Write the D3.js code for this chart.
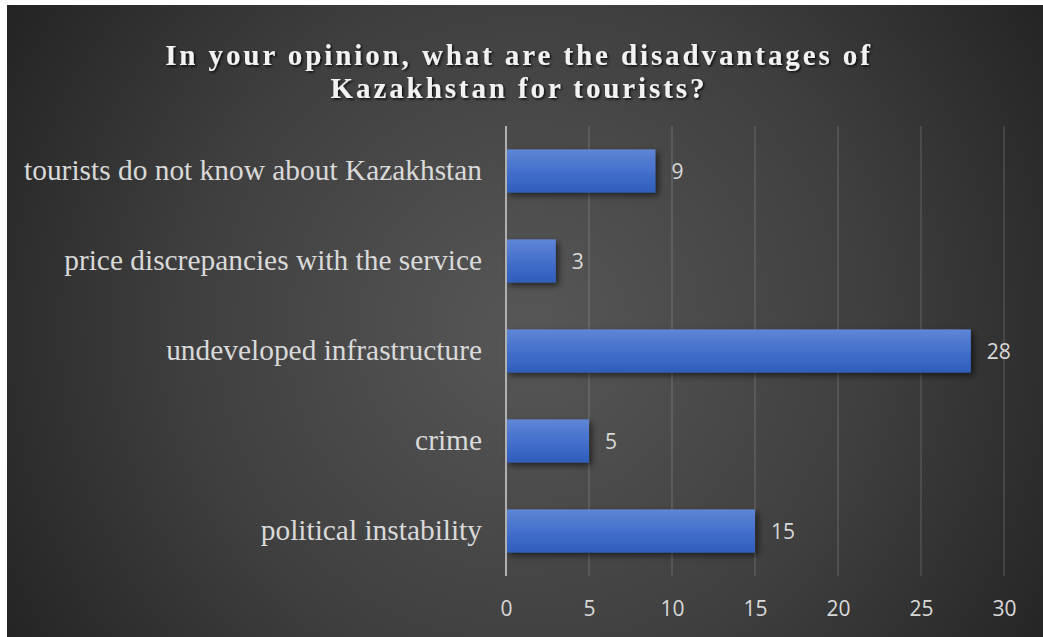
<!DOCTYPE html>
<html>
<head>
<meta charset="utf-8">
<script src="https://cdn.jsdelivr.net/npm/d3@7"></script>
<style>
  html, body { margin: 0; padding: 0; background: #ffffff; }
  svg { display: block; }
</style>
</head>
<body>
<svg id="chart" width="1043" height="637"></svg>
<script>
// Survey answers: disadvantages of Kazakhstan for tourists
const categories = [
  "tourists do not know about Kazakhstan",
  "price discrepancies with the service",
  "undeveloped infrastructure",
  "crime",
  "political instability"
];
const values = [9, 3, 28, 5, 15];
const xTicks = [0, 5, 10, 15, 20, 25, 30];
const titleLines = [
  "In your opinion, what are the disadvantages of",
  "Kazakhstan for tourists?"
];

const W = 1043, H = 637;
const panel = { x: 7, y: 5, w: W - 7, h: H - 5 };
const plot = { left: 506, right: 1004, top: 126, bottom: 576 };

const svg = d3.select("#chart");
const defs = svg.append("defs");

// dark radial background
const bg = defs.append("radialGradient")
  .attr("id", "bgGrad")
  .attr("gradientUnits", "userSpaceOnUse")
  .attr("cx", 530).attr("cy", 330).attr("r", 620);
bg.append("stop").attr("offset", "0").attr("stop-color", "#575757");
bg.append("stop").attr("offset", "0.55").attr("stop-color", "#3f3f3f");
bg.append("stop").attr("offset", "1").attr("stop-color", "#232323");

// bar fill
const barGrad = defs.append("linearGradient")
  .attr("id", "barGrad").attr("x1", 0).attr("y1", 0).attr("x2", 0).attr("y2", 1);
barGrad.append("stop").attr("offset", "0").attr("stop-color", "#5f86d6");
barGrad.append("stop").attr("offset", "0.5").attr("stop-color", "#4470cc");
barGrad.append("stop").attr("offset", "1").attr("stop-color", "#2f5dbb");

const shadow = defs.append("filter").attr("id", "barShadow")
  .attr("x", "-10%").attr("y", "-20%").attr("width", "130%").attr("height", "160%");
shadow.append("feDropShadow")
  .attr("dx", 3).attr("dy", 3).attr("stdDeviation", 3)
  .attr("flood-color", "#000").attr("flood-opacity", 0.55);

const titleShadow = defs.append("filter").attr("id", "titleShadow")
  .attr("x", "-5%").attr("y", "-30%").attr("width", "110%").attr("height", "160%");
titleShadow.append("feDropShadow")
  .attr("dx", 1.5).attr("dy", 1.5).attr("stdDeviation", 1.2)
  .attr("flood-color", "#000").attr("flood-opacity", 0.8);

svg.append("rect")
  .attr("x", panel.x).attr("y", panel.y)
  .attr("width", panel.w).attr("height", panel.h)
  .attr("fill", "url(#bgGrad)");

// scales
const x = d3.scaleLinear().domain([0, 30]).range([plot.left, plot.right]);
const y = d3.scaleBand().domain(categories)
  .range([plot.top, plot.bottom]).paddingInner(0.52).paddingOuter(0.26);

// vertical gridlines
svg.append("g")
  .selectAll("line")
  .data(xTicks.filter(t => t !== 0))
  .join("line")
  .attr("x1", d => x(d)).attr("x2", d => x(d))
  .attr("y1", plot.top).attr("y2", plot.bottom)
  .attr("stroke", "#ffffff").attr("stroke-opacity", 0.17).attr("stroke-width", 1.3);

// x axis tick labels
const xAxis = d3.axisBottom(x).tickValues(xTicks).tickSize(0).tickPadding(0);
const gx = svg.append("g")
  .attr("transform", `translate(0, ${plot.bottom})`)
  .call(xAxis);
gx.select(".domain").remove();
gx.selectAll("text")
  .attr("y", 40)
  .attr("dy", 0)
  .attr("fill", "#d9d9d9")
  .attr("font-family", "'Open Sans', 'Noto Sans', sans-serif")
  .attr("font-size", 21);

// bars
svg.append("g")
  .selectAll("rect")
  .data(values)
  .join("rect")
  .attr("x", x(0))
  .attr("y", (d, i) => y(categories[i]))
  .attr("width", d => x(d) - x(0))
  .attr("height", y.bandwidth())
  .attr("fill", "url(#barGrad)")
  .attr("filter", "url(#barShadow)");

// category axis line
svg.append("line")
  .attr("x1", x(0)).attr("x2", x(0))
  .attr("y1", plot.top).attr("y2", plot.bottom)
  .attr("stroke", "#b0b0b0").attr("stroke-width", 2);

// category labels
const yAxis = d3.axisLeft(y).tickSize(0).tickPadding(24);
const gy = svg.append("g")
  .attr("transform", `translate(${x(0)}, 0)`)
  .call(yAxis);
gy.select(".domain").remove();
gy.selectAll("text")
  .attr("fill", "#d9d9d9")
  .attr("font-family", "'Liberation Serif', 'Times New Roman', serif")
  .attr("font-size", 29.4)
  .attr("dy", "0.32em");

// value labels
svg.append("g")
  .selectAll("text")
  .data(values)
  .join("text")
  .attr("x", d => x(d) + 16)
  .attr("y", (d, i) => y(categories[i]) + y.bandwidth() / 2)
  .attr("dy", "0.36em")
  .attr("fill", "#d9d9d9")
  .attr("font-family", "'Open Sans', 'Noto Sans', sans-serif")
  .attr("font-size", 21)
  .text(d => d);

// title
svg.append("g")
  .attr("filter", "url(#titleShadow)")
  .selectAll("text")
  .data(titleLines)
  .join("text")
  .attr("x", 519)
  .attr("y", (d, i) => 65 + i * 33)
  .attr("text-anchor", "middle")
  .attr("fill", "#f2f2f2")
  .attr("font-family", "'Liberation Serif', 'Times New Roman', serif")
  .attr("font-weight", "bold")
  .attr("font-size", 29)
  .attr("letter-spacing", 2.9)
  .text(d => d);
</script>
</body>
</html>
